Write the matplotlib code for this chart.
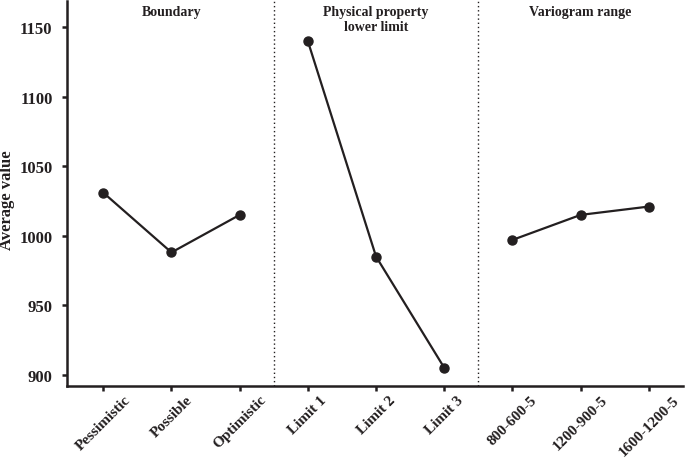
import matplotlib.pyplot as plt

plt.rcParams['font.family'] = ['Liberation Serif', 'DejaVu Serif']
plt.rcParams['font.weight'] = 'bold'

# data
labels = ["Pessimistic", "Possible", "Optimistic",
          "Limit 1", "Limit 2", "Limit 3",
          "800-600-5", "1200-900-5", "1600-1200-5"]
boundary = [1031, 988, 1015]
limits = [1140, 985, 905]
variogram = [997, 1015, 1021]
groups = ["Boundary", "Physical property\nlower limit", "Variogram range"]
yticks = [900, 950, 1000, 1050, 1100, 1150]

col = "#231f20"
fig = plt.figure(figsize=(6.85, 4.6), dpi=100)
ax = fig.add_axes([0.098, 0.159, 0.899, 0.837])

series = [boundary, limits, variogram]
for i, vals in enumerate(series):
    xs = [i * 3 + k for k in range(len(vals))]
    ax.plot(xs, vals, color=col, lw=1.6, marker="o", ms=6.5)

# separators
for xv in (2.5, 5.5):
    ax.axvline(xv, color=col, lw=1, ls=(0, (1, 2)))

# group titles
for i, g in enumerate(groups):
    ax.text(i * 3 + 1, 1166, g, ha="center", va="top", fontsize=10,
            fontweight="bold", color=col, linespacing=1.15)

ax.set_xlim(-0.53, 8.5)
ax.set_ylim(892, 1169)
ax.set_yticks(yticks)
ax.set_xticks(range(len(labels)))
ax.set_xticklabels(labels, rotation=45, ha="center", va="top",
                   fontsize=11, fontweight="bold", color=col)
for t in ax.get_yticklabels():
    t.set_fontsize(12)
    t.set_fontweight("bold")
    t.set_color(col)

for s in ("top", "right"):
    ax.spines[s].set_visible(False)
for s in ("left", "bottom"):
    ax.spines[s].set_linewidth(1.8)
    ax.spines[s].set_color(col)
ax.tick_params(direction="out", length=3.5, width=1.8, color=col)
ax.tick_params(axis="y", pad=7)
ax.tick_params(axis="x", pad=1.5)

ax.set_ylabel("Average value", fontsize=12, fontweight="bold", color=col)
ax.yaxis.set_label_coords(-0.085, 0.485)

fig.savefig("out.png", dpi=100)
